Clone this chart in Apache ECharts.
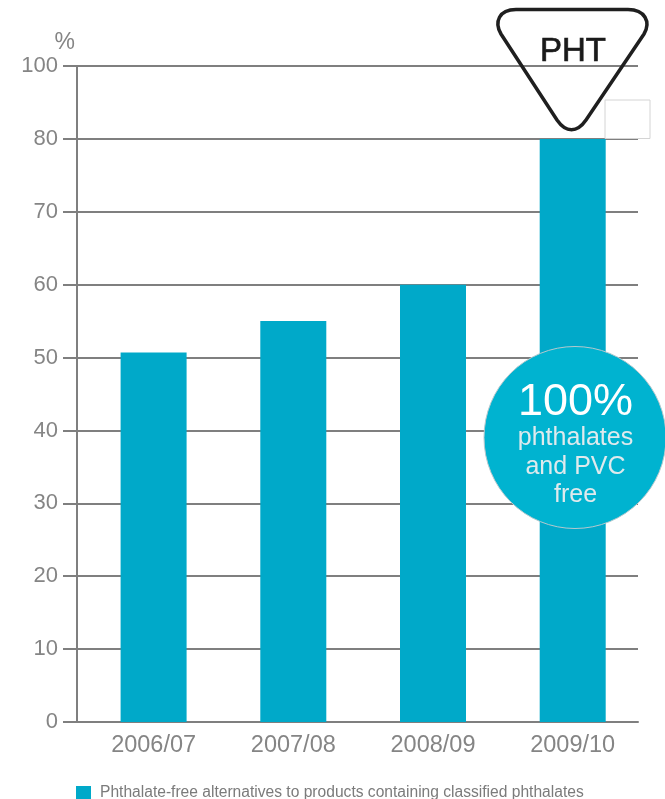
<!DOCTYPE html>
<html>
<head>
<meta charset="utf-8">
<style>html,body{margin:0;padding:0;background:#fff}#chart{width:665px;height:799px}</style>
<script src="https://cdn.jsdelivr.net/npm/echarts@6/dist/echarts.min.js"></script>
</head>
<body>
<div id="chart"></div>
<script>
// Share of phthalate-free alternatives by financial year
const years = ['2006/07', '2007/08', '2008/09', '2009/10'];
const shareValues = [50.7, 55, 60, 80];
const seriesName = 'Phthalate-free alternatives to products containing classified phthalates';
// The printed scale jumps from 80 straight to 100 on evenly spaced ticks
const yTickLabels = ['0', '10', '20', '30', '40', '50', '60', '70', '80', '100'];
const yMax = 90;
const badgeLines = ['phthalates', 'and PVC', 'free'];

const FONT = '"Liberation Sans", Arial, sans-serif';
const AXIS_GREY = '#7f7f7f';
const LABEL_GREY = '#858585';
const BAR_BLUE = '#00a9c9';

// Rounded warning triangle outline, registered as a reusable graphic shape
echarts.graphic.registerShape('warningTriangle', echarts.graphic.extendPath(
  'M516 9.5 L628 9.5 C645 9.5 651 22 644 34 L586 120 C577 133 566 133 557 120 L501 34 C494 22 499 9.5 516 9.5 Z',
  {}
));

const chart = echarts.init(document.getElementById('chart'), null, { renderer: 'canvas' });

const badgeText = badgeLines.map((line, i) => ({
  type: 'text',
  z: 12,
  style: {
    x: 575.5, y: 438.5 + i * 28.5, text: line,
    fill: '#dfeaed', font: '25px ' + FONT,
    textAlign: 'center', textVerticalAlign: 'middle'
  }
}));

chart.setOption({
  animation: false,
  backgroundColor: '#ffffff',
  textStyle: { fontFamily: FONT },
  grid: [
    // Frame: value axis and rules
    { left: 77, top: 66, width: 561, height: 656 },
    // Bars and year labels
    { left: 83.75, top: 66, width: 558.8, height: 656 }
  ],
  legend: {
    left: 76, top: 785, padding: 0,
    icon: 'rect', itemWidth: 15, itemHeight: 14, itemGap: 0,
    selectedMode: false,
    textStyle: { color: '#7b7b7b', fontSize: 15.6, fontFamily: FONT, padding: [0, 0, 0, 4] }
  },
  xAxis: [
    {
      gridIndex: 0, type: 'category', data: years,
      axisLine: { show: true, onZero: false, lineStyle: { color: AXIS_GREY, width: 2 } },
      axisTick: { show: false }, axisLabel: { show: false }
    },
    {
      gridIndex: 1, type: 'category', data: years,
      axisLine: { show: false }, axisTick: { show: false },
      axisLabel: { color: LABEL_GREY, fontSize: 23.5, margin: 12, fontFamily: FONT }
    }
  ],
  yAxis: [
    {
      gridIndex: 0, type: 'value', min: 0, max: yMax, interval: 10,
      name: '%', nameLocation: 'end', nameGap: 12,
      nameTextStyle: { color: LABEL_GREY, fontSize: 23, align: 'right', padding: [0, 2, 0, 0], fontFamily: FONT },
      axisLine: { show: true, lineStyle: { color: AXIS_GREY, width: 2 } },
      axisTick: { show: true, length: 14, lineStyle: { color: AXIS_GREY, width: 2 } },
      axisLabel: {
        color: LABEL_GREY, fontSize: 22, margin: 19, fontFamily: FONT,
        formatter: v => yTickLabels[Math.round(v / 10)]
      },
      splitLine: { show: true, lineStyle: { color: AXIS_GREY, width: 2 } }
    },
    {
      gridIndex: 1, type: 'value', min: 0, max: yMax, interval: 10, show: false,
      splitLine: { show: false }
    }
  ],
  series: [{
    name: seriesName,
    type: 'bar',
    xAxisIndex: 1, yAxisIndex: 1,
    data: shareValues,
    barWidth: 66,
    itemStyle: { color: BAR_BLUE },
    z: 3
  }],
  graphic: { elements: [
    // Empty white box next to the top of the last bar
    {
      type: 'rect', z: 5,
      shape: { x: 605, y: 100, width: 45, height: 38.5 },
      style: { fill: '#ffffff', stroke: '#d4d4d4', lineWidth: 1 }
    },
    {
      type: 'warningTriangle', z: 6,
      style: { fill: 'none', stroke: '#1f1f1f', lineWidth: 3.5 }
    },
    {
      type: 'text', z: 7,
      style: {
        x: 573, y: 52, text: 'PHT', fill: '#1a1a1a', stroke: '#1a1a1a', lineWidth: 0.7,
        font: '33px ' + FONT, textAlign: 'center', textVerticalAlign: 'middle'
      }
    },
    // Round badge over the last bar
    {
      type: 'circle', z: 10,
      shape: { cx: 575, cy: 437.5, r: 91 },
      style: { fill: '#00b3d0', stroke: '#b5c9ce', lineWidth: 1 }
    },
    {
      type: 'text', z: 12,
      style: {
        x: 575.5, y: 403, text: '100%', fill: '#ffffff', font: '45px ' + FONT,
        textAlign: 'center', textVerticalAlign: 'middle'
      }
    },
    ...badgeText
  ] }
});
</script>
</body>
</html>
